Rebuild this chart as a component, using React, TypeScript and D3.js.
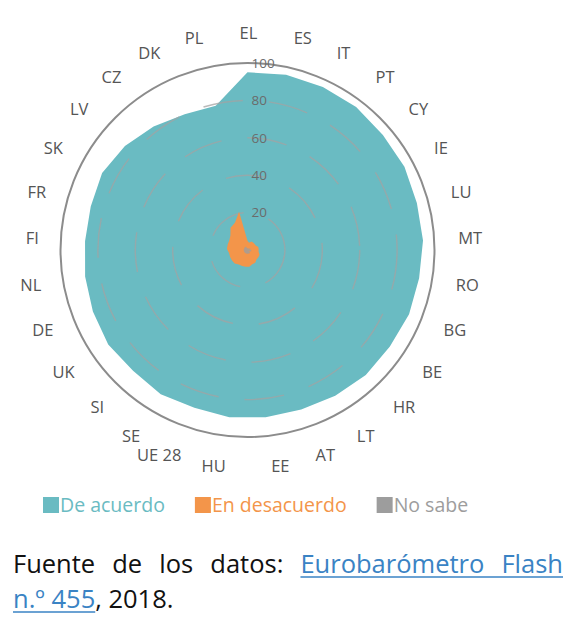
import React, { useRef, useEffect } from "react";
import * as d3 from "d3";

const countries = [
  "EL", "ES", "IT", "PT", "CY", "IE", "LU", "MT", "RO", "BG",
  "BE", "HR", "LT", "AT", "EE", "HU", "UE 28", "SE", "SI", "UK",
  "DE", "NL", "FI", "FR", "SK", "LV", "CZ", "DK", "PL",
];

const deAcuerdo = [
  95, 96, 96, 96, 95, 95, 94, 94, 93, 93,
  92, 92, 91, 90, 90, 90, 89, 90, 89, 90,
  89, 88, 87, 87, 88, 86, 83, 80, 79,
];

const enDesacuerdo = [
  5, 4, 5, 5, 5, 5, 6, 6, 6, 7,
  7, 7, 8, 8, 9, 9, 9, 9, 10, 10,
  10, 10, 11, 11, 11, 12, 15, 16, 21,
];

const noSabe = [
  1, 1, 1, 1, 1, 2, 1, 2, 2, 2,
  1, 2, 2, 2, 2, 2, 2, 2, 2, 2,
  2, 2, 2, 2, 2, 2, 2, 2, 1,
];

const radialTicks = [20, 40, 60, 80, 100];

const seriesNames = ["De acuerdo", "En desacuerdo", "No sabe"];
const seriesColors = ["#6abbc2", "#f3954a", "#9d9d9d"];

const sourceWords = ["Fuente", "de", "los", "datos:"];
const linkWords = ["Eurobarómetro", "Flash"];
const linkLine2 = "n.º 455";
const restLine2 = ", 2018.";

const FONT = "'Open Sans', 'Noto Sans', sans-serif";

function drawChart(svgEl: SVGSVGElement) {
  const svg = d3.select(svgEl);
  svg.selectAll("*").remove();

  const cx = 247.5;
  const cy = 250;
  const R = 187;

  const r = d3.scaleLinear().domain([0, 100]).range([0, R]);
  const angle = d3
    .scaleBand<string>()
    .domain(countries)
    .range([0, 2 * Math.PI]);

  const g = svg.append("g").attr("transform", `translate(${cx},${cy})`);

  const radar = d3
    .lineRadial<number>()
    .angle((_, i) => angle(countries[i]) as number)
    .radius((d) => r(d))
    .curve(d3.curveLinearClosed);

  // agree series
  g.append("path").attr("d", radar(deAcuerdo)).attr("fill", seriesColors[0]);

  // grid rings (dashed) + outer circle
  g.selectAll(".ring")
    .data(radialTicks.filter((t) => t < 100))
    .enter()
    .append("circle")
    .attr("r", (d) => r(d))
    .attr("fill", "none")
    .attr("stroke", "#a3a3a3")
    .attr("stroke-opacity", 0.75)
    .attr("stroke-width", 1.4)
    .attr("stroke-dasharray", "40 26");

  g.append("circle")
    .attr("r", r(100))
    .attr("fill", "none")
    .attr("stroke", "#8c8c8c")
    .attr("stroke-width", 2);

  // disagree + don't know
  g.append("path").attr("d", radar(enDesacuerdo)).attr("fill", seriesColors[1]);
  g.append("path")
    .attr("d", radar(noSabe))
    .attr("fill", seriesColors[2])
    .attr("opacity", 0.8);

  // radial tick labels
  g.selectAll(".tick")
    .data(radialTicks)
    .enter()
    .append("text")
    .attr("x", 4)
    .attr("y", (d) => -r(d))
    .attr("dy", "0.35em")
    .attr("font-family", FONT)
    .attr("font-size", 13.5)
    .attr("fill", "#6b6b6b")
    .text((d) => d);

  // category labels
  g.selectAll(".cat")
    .data(countries)
    .enter()
    .append("text")
    .attr("x", (d) => 1 + Math.sin(angle(d) as number) * 210)
    .attr("y", (d) => -Math.cos(angle(d) as number) * 217)
    .attr("dy", "0.35em")
    .attr("text-anchor", (d) => {
      const s = Math.sin(angle(d) as number);
      if (Math.abs(s) < 0.05) return "middle";
      return s > 0 ? "start" : "end";
    })
    .attr("font-family", FONT)
    .attr("font-size", 16.5)
    .attr("fill", "#555")
    .text((d) => d);

  // legend
  const legend = svg.append("g").attr("transform", "translate(43,497)");
  let lx = 0;
  seriesNames.forEach((name, i) => {
    legend
      .append("rect")
      .attr("x", lx)
      .attr("y", 0)
      .attr("width", 16)
      .attr("height", 16)
      .attr("fill", seriesColors[i]);
    const t = legend
      .append("text")
      .attr("x", lx + 17)
      .attr("y", 15)
      .attr("font-family", FONT)
      .attr("font-size", 19.5)
      .attr("fill", seriesColors[i])
      .text(name);
    const w = (t.node() as SVGTextElement).getComputedTextLength();
    lx += 17 + w + 30;
  });

  // source note, first line justified
  const left = 13;
  const right = 563;
  const base1 = 573;
  const base2 = 608;
  const blue = "#3a83c4";
  const footer = svg.append("g").attr("font-family", FONT).attr("font-size", 25.5);

  const words = [...sourceWords, ...linkWords];
  const nodes = words.map((w, i) =>
    footer
      .append("text")
      .attr("y", base1)
      .attr("fill", i >= sourceWords.length ? blue : "#111")
      .text(w)
  );
  const widths = nodes.map((n) => (n.node() as SVGTextElement).getComputedTextLength());
  const gap = (right - left - d3.sum(widths)) / (words.length - 1);
  let x = left;
  let linkStart = 0;
  nodes.forEach((n, i) => {
    n.attr("x", x);
    if (i === sourceWords.length) linkStart = x;
    x += widths[i] + gap;
  });
  footer
    .append("line")
    .attr("x1", linkStart)
    .attr("x2", right)
    .attr("y1", base1 + 4)
    .attr("y2", base1 + 4)
    .attr("stroke", blue)
    .attr("stroke-width", 1.6);

  const l2 = footer
    .append("text")
    .attr("x", left)
    .attr("y", base2)
    .attr("fill", blue)
    .text(linkLine2);
  const l2w = (l2.node() as SVGTextElement).getComputedTextLength();
  footer
    .append("line")
    .attr("x1", left)
    .attr("x2", left + l2w)
    .attr("y1", base2 + 4)
    .attr("y2", base2 + 4)
    .attr("stroke", blue)
    .attr("stroke-width", 1.6);
  footer
    .append("text")
    .attr("x", left + l2w)
    .attr("y", base2)
    .attr("fill", "#111")
    .text(restLine2);
}

const App: React.FunctionComponent = function () {
  const svgRef = useRef<SVGSVGElement>(null);

  useEffect(() => {
    if (svgRef.current == null) {
      return;
    }
    drawChart(svgRef.current);
  }, []);

  return (
    <svg
      ref={svgRef}
      width={568}
      height={628}
      style={{ position: "absolute", left: 0, top: 0, background: "#fff" }}
    ></svg>
  );
};

export default App;
